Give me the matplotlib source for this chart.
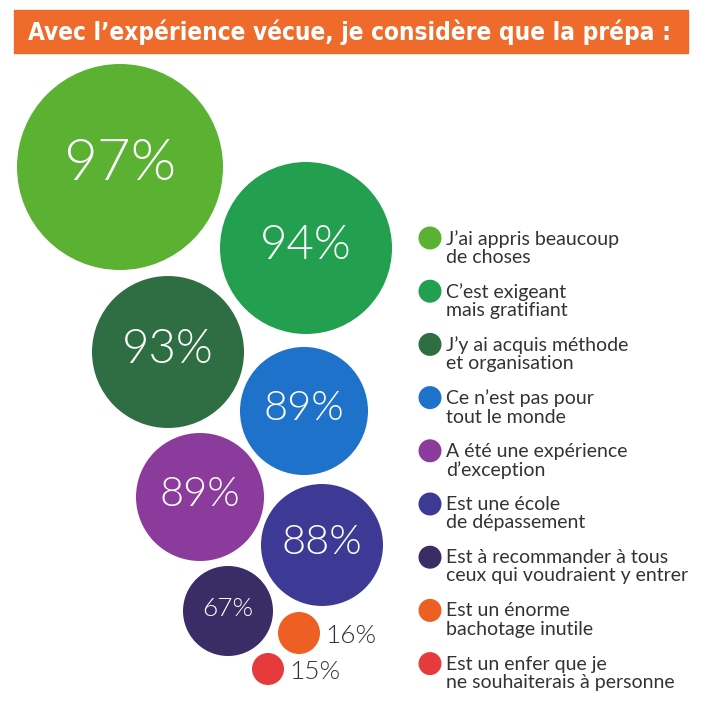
import matplotlib.pyplot as plt
from matplotlib.patches import Circle, Rectangle

title = "Avec l\u2019expérience vécue, je considère que la prépa :"

labels = [
    "J\u2019ai appris beaucoup\nde choses",
    "C\u2019est exigeant\nmais gratifiant",
    "J\u2019y ai acquis méthode\net organisation",
    "Ce n\u2019est pas pour\ntout le monde",
    "A été une expérience\nd\u2019exception",
    "Est une école\nde dépassement",
    "Est à recommander à tous\nceux qui voudraient y entrer",
    "Est un énorme\nbachotage inutile",
    "Est un enfer que je\nne souhaiterais à personne",
]
values = [97, 94, 93, 89, 89, 88, 67, 16, 15]
colors = ["#5BB132", "#22A050", "#2E6E42", "#1F72CA", "#8B3B9C",
          "#3C3A95", "#3A2D66", "#EE5F24", "#E53B3C"]

# bubble layout (pixel space of the page)
centers = [(120, 167), (306, 248), (168, 352), (304, 411), (200, 497),
           (322, 545), (228, 611), (299, 633), (268, 669)]
radii = [103, 86, 76, 64, 64, 61, 45, 21, 16]
font_sizes = [42, 34, 34, 30, 30, 30, 19, 0, 0]

W, H = 715, 721
fig = plt.figure(figsize=(W / 100, H / 100), dpi=100)
ax = fig.add_axes([0, 0, 1, 1])
ax.set_xlim(0, W)
ax.set_ylim(H, 0)
ax.axis('off')

# title banner
ax.add_patch(Rectangle((14, 10), 674, 43, color="#EE6B2C", zorder=1))
ax.text(349, 32, title, color="white", fontsize=17.5, fontweight='bold',
        fontstretch='condensed', family='DejaVu Sans',
        ha='center', va='center', zorder=2)

# bubbles
for v, c, (x, y), r, fs in zip(values, colors, centers, radii, font_sizes):
    ax.add_patch(Circle((x, y), r, color=c, lw=0, zorder=2))
    if fs:
        ax.text(x, y - 2, f"{v}%", color="white", fontsize=fs,
                fontweight=300, family=['Lato', 'DejaVu Sans'],
                ha='center', va='center', zorder=3)
    else:
        ax.text(x + r + 5, y + 3, f"{v}%", color="#333333", fontsize=19,
                fontweight=300, family=['Lato', 'DejaVu Sans'],
                ha='left', va='center', zorder=3)

# legend
for i, (lab, c) in enumerate(zip(labels, colors)):
    y = 238 + i * 53.2
    ax.add_patch(Circle((430, y), 11.5, color=c, lw=0, zorder=2))
    ax.text(446, y - 8, lab, color="#333333", fontsize=14,
            family=['Lato', 'DejaVu Sans'], ha='left', va='top',
            linespacing=1.08, zorder=3)

fig.savefig("out.png", dpi=100, facecolor="white")
